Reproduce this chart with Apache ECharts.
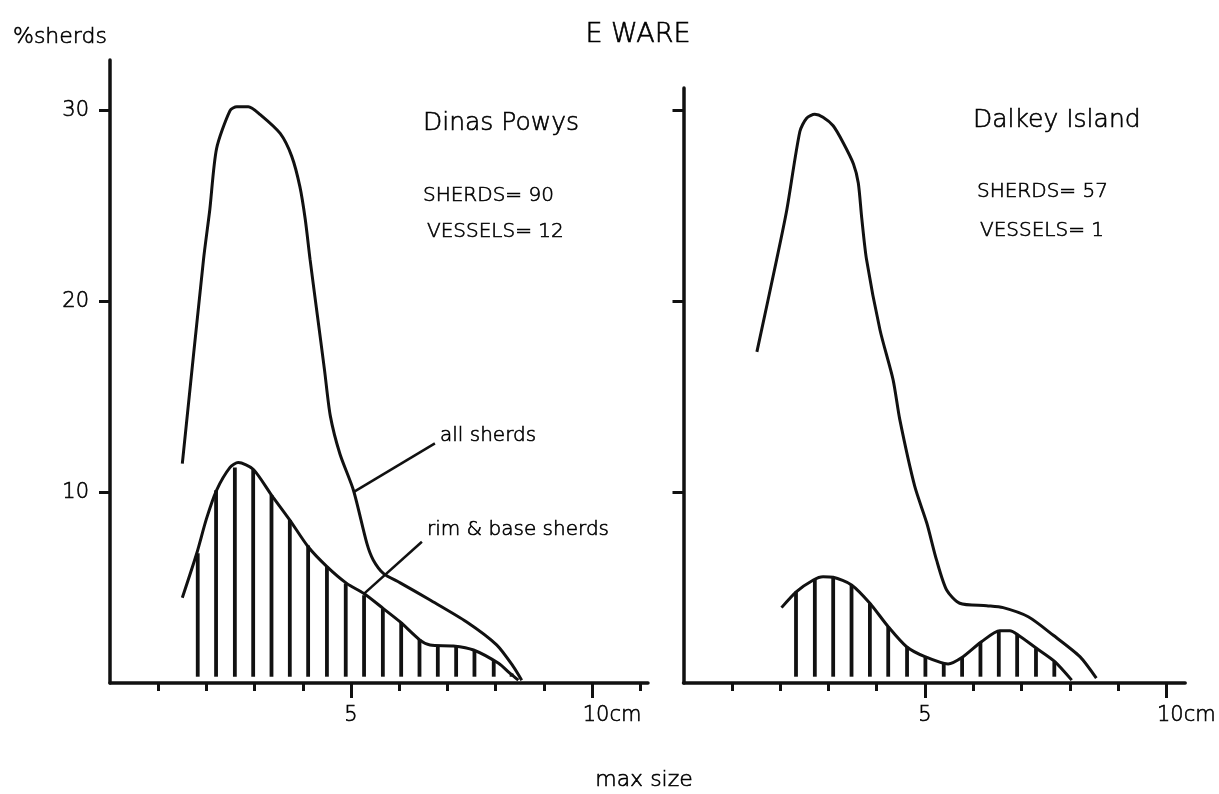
<!DOCTYPE html>
<html>
<head>
<meta charset="utf-8">
<script src="https://cdn.jsdelivr.net/npm/echarts@6/dist/echarts.min.js"></script>
<style>
html,body{margin:0;padding:0;background:#fff;}
#c{width:1219px;height:794px;}
</style>
</head>
<body>
<div id="c"></div>
<script>
// ---- data ----
const chartTitle = 'E WARE';
const yAxisName = '%sherds';
const xAxisName = 'max size';
const yTickValues = [10, 20, 30];
const leftMinorTicks = [1, 2, 3, 4, 6, 7, 8, 9, 11];
const rightMinorTicks = [1, 2, 3, 4, 6, 7, 8, 9];
const majorTicks = [5, 10];
const siteNames = ['Dinas Powys', 'Dalkey Island'];
const sherdCounts = [90, 57];
const vesselCounts = [12, 1];
const curveNames = ['all sherds', 'rim & base sherds'];

// Dinas Powys: [max size cm, % sherds]
const leftAll = [[1.5,11.5],[1.94,22.2],[2.07,24.8],[2.21,28.0],[2.49,30.0],[2.63,30.2],[2.87,30.2],[3.11,29.8],[3.53,28.8],[3.77,27.6],[3.94,26.0],[4.05,24.3],[4.15,22.2],[4.3,19.3],[4.45,16.4],[4.57,14.0],[4.77,12.0],[5.05,10.1],[5.33,7.3],[5.46,6.45],[5.67,5.75],[6.02,5.25],[6.64,4.35],[7.4,3.2],[8.02,2.0],[8.37,0.85],[8.54,0.15]];
const leftRim = [[1.5,4.47],[1.8,6.8],[2.0,8.6],[2.21,10.1],[2.49,11.3],[2.66,11.55],[2.97,11.2],[3.35,9.85],[3.73,8.54],[4.11,7.14],[4.5,6.1],[4.91,5.22],[5.26,4.7],[5.67,3.9],[6.02,3.2],[6.43,2.25],[6.64,1.99],[7.12,1.94],[7.54,1.73],[8.06,1.03],[8.3,0.5],[8.47,0.15]];
const leftHatch = [[1.82,6.8],[2.2,10.1],[2.59,11.3],[2.97,11.2],[3.35,9.85],[3.73,8.54],[4.11,7.2],[4.5,6.1],[4.89,5.22],[5.27,4.6],[5.66,3.9],[6.04,3.2],[6.42,2.3],[6.8,1.95],[7.18,1.93],[7.56,1.73],[7.96,1.2],[8.33,0.5]];

// Dalkey Island
const rightAll = [[1.52,17.35],[1.93,22.2],[2.14,24.8],[2.41,28.9],[2.55,29.6],[2.72,29.8],[2.89,29.65],[3.1,29.2],[3.31,28.3],[3.52,27.2],[3.62,26.2],[3.69,24.4],[3.79,22.2],[4.07,18.5],[4.34,15.9],[4.48,13.8],[4.79,10.3],[5.04,8.37],[5.24,6.45],[5.45,4.87],[5.72,4.18],[6.28,4.05],[6.62,3.95],[7.14,3.47],[7.66,2.5],[8.21,1.38],[8.55,0.25]];
const rightRim = [[2.03,3.95],[2.34,4.79],[2.69,5.4],[2.89,5.57],[3.1,5.54],[3.48,5.14],[3.86,4.18],[4.24,2.95],[4.62,1.9],[5.0,1.38],[5.48,1.0],[5.79,1.38],[6.17,2.16],[6.55,2.74],[6.76,2.74],[6.93,2.52],[7.31,1.82],[7.69,1.12],[8.04,0.15]];
const rightHatch = [[2.33,4.79],[2.72,5.45],[3.1,5.54],[3.48,5.14],[3.86,4.18],[4.24,2.95],[4.63,1.9],[5.01,1.38],[5.39,1.05],[5.77,1.35],[6.15,2.15],[6.53,2.74],[6.91,2.55],[7.3,1.82],[7.68,1.12]];

// leader lines for the annotations (data coords)
const allLeader = [[5.05,10.0],[6.74,12.56]];
const rimLeader = [[5.26,4.66],[6.47,7.4]];
const hatchBase = 0.33;

// ---- chart ----
const INK = '#111';
const TXT = '#000';
const FONT = 'DejaVu Sans';
const WEIGHT = 300;
const TSTROKE = 0.6;
const chart = echarts.init(document.getElementById('c'));

function minorX(grid, max, ticks) {
  return {
    gridIndex: grid, type: 'value', min: 0, max: max, position: 'bottom',
    axisLine: { show: true, onZero: false, lineStyle: { color: INK, width: 3.5 } },
    axisTick: { show: true, customValues: ticks, length: 8, lineStyle: { color: INK, width: 3 } },
    axisLabel: { show: false }, splitLine: { show: false }
  };
}
function majorX(grid, max) {
  return {
    gridIndex: grid, type: 'value', min: 0, max: max, position: 'bottom',
    axisLine: { show: false },
    axisTick: { show: true, customValues: majorTicks, length: 15, lineStyle: { color: INK, width: 3 } },
    axisLabel: {
      show: true, customValues: majorTicks, margin: 22,
      fontFamily: FONT, fontWeight: WEIGHT, fontSize: 21, color: TXT,
      textBorderColor: TXT, textBorderWidth: TSTROKE,
      formatter: v => v === 10 ? '{c|10cm}' : String(v),
      rich: { c: { fontFamily: FONT, fontWeight: WEIGHT, fontSize: 21, color: TXT,
                   textBorderColor: TXT, textBorderWidth: TSTROKE, padding: [0, 0, 0, 40] } }
    },
    splitLine: { show: false }
  };
}
function yAx(grid, max, labels) {
  return {
    gridIndex: grid, type: 'value', min: 0, max: max,
    axisLine: { show: true, lineStyle: { color: INK, width: 3.5 } },
    axisTick: { show: true, customValues: yTickValues, length: 11, lineStyle: { color: INK, width: 3 } },
    axisLabel: { show: labels, customValues: yTickValues, margin: 21, fontFamily: FONT, fontWeight: WEIGHT,
                 fontSize: 21, color: TXT, textBorderColor: TXT, textBorderWidth: TSTROKE },
    splitLine: { show: false }
  };
}
function curve(data, xi, yi) {
  return {
    type: 'line', data: data, xAxisIndex: xi, yAxisIndex: yi,
    smooth: 0.25, symbol: 'none',
    lineStyle: { color: INK, width: 3 }, silent: true
  };
}
function leader(data, xi, yi) {
  return {
    type: 'line', data: data, xAxisIndex: xi, yAxisIndex: yi,
    symbol: 'none', lineStyle: { color: INK, width: 2.5 }, silent: true
  };
}
function hatch(data, xi, yi) {
  return {
    type: 'custom', coordinateSystem: 'cartesian2d', xAxisIndex: xi, yAxisIndex: yi,
    data: data, silent: true,
    renderItem: (params, api) => {
      const x = api.value(0), top = api.value(1);
      const p1 = api.coord([x, top]);
      const p0 = api.coord([x, hatchBase]);
      return { type: 'line', shape: { x1: p0[0], y1: p0[1], x2: p1[0], y2: p1[1] },
               style: { stroke: INK, lineWidth: 3.8 } };
    }
  };
}
function txt(x, y, s, size, align) {
  return { type: 'text', x: x, y: y, silent: true,
           style: { text: s, fontFamily: FONT, fontWeight: WEIGHT, fontSize: size, fill: TXT,
                    stroke: TXT, lineWidth: TSTROKE,
                    textAlign: align || 'left', textVerticalAlign: 'middle' } };
}

const option = {
  backgroundColor: '#fff',
  animation: false,
  grid: [
    { left: 110, top: 60, width: 538, height: 623 },
    { left: 683.5, top: 88, width: 502, height: 595 }
  ],
  xAxis: [ minorX(0, 11.16, leftMinorTicks), majorX(0, 11.16),
           minorX(1, 10.39, rightMinorTicks), majorX(1, 10.39) ],
  yAxis: [ yAx(0, 32.65, true), yAx(1, 31.18, false) ],
  series: [
    curve(leftAll, 0, 0), curve(leftRim, 0, 0), hatch(leftHatch, 0, 0),
    leader(allLeader, 0, 0), leader(rimLeader, 0, 0),
    curve(rightAll, 2, 1), curve(rightRim, 2, 1), hatch(rightHatch, 2, 1)
  ],
  graphic: [
    txt(638, 35, chartTitle, 27, 'center'),
    txt(13, 37, yAxisName, 22),
    txt(644, 780, xAxisName, 22, 'center'),
    txt(423, 123, siteNames[0], 25),
    txt(423, 196, 'SHERDS= ' + sherdCounts[0], 20),
    txt(427, 232, 'VESSELS= ' + vesselCounts[0], 20),
    txt(973, 120, siteNames[1], 25),
    txt(977, 192, 'SHERDS= ' + sherdCounts[1], 20),
    txt(980, 231, 'VESSELS= ' + vesselCounts[1], 20),
    txt(440, 436, curveNames[0], 20),
    txt(427, 530, curveNames[1], 20)
  ]
};
chart.setOption(option);
</script>
</body>
</html>
